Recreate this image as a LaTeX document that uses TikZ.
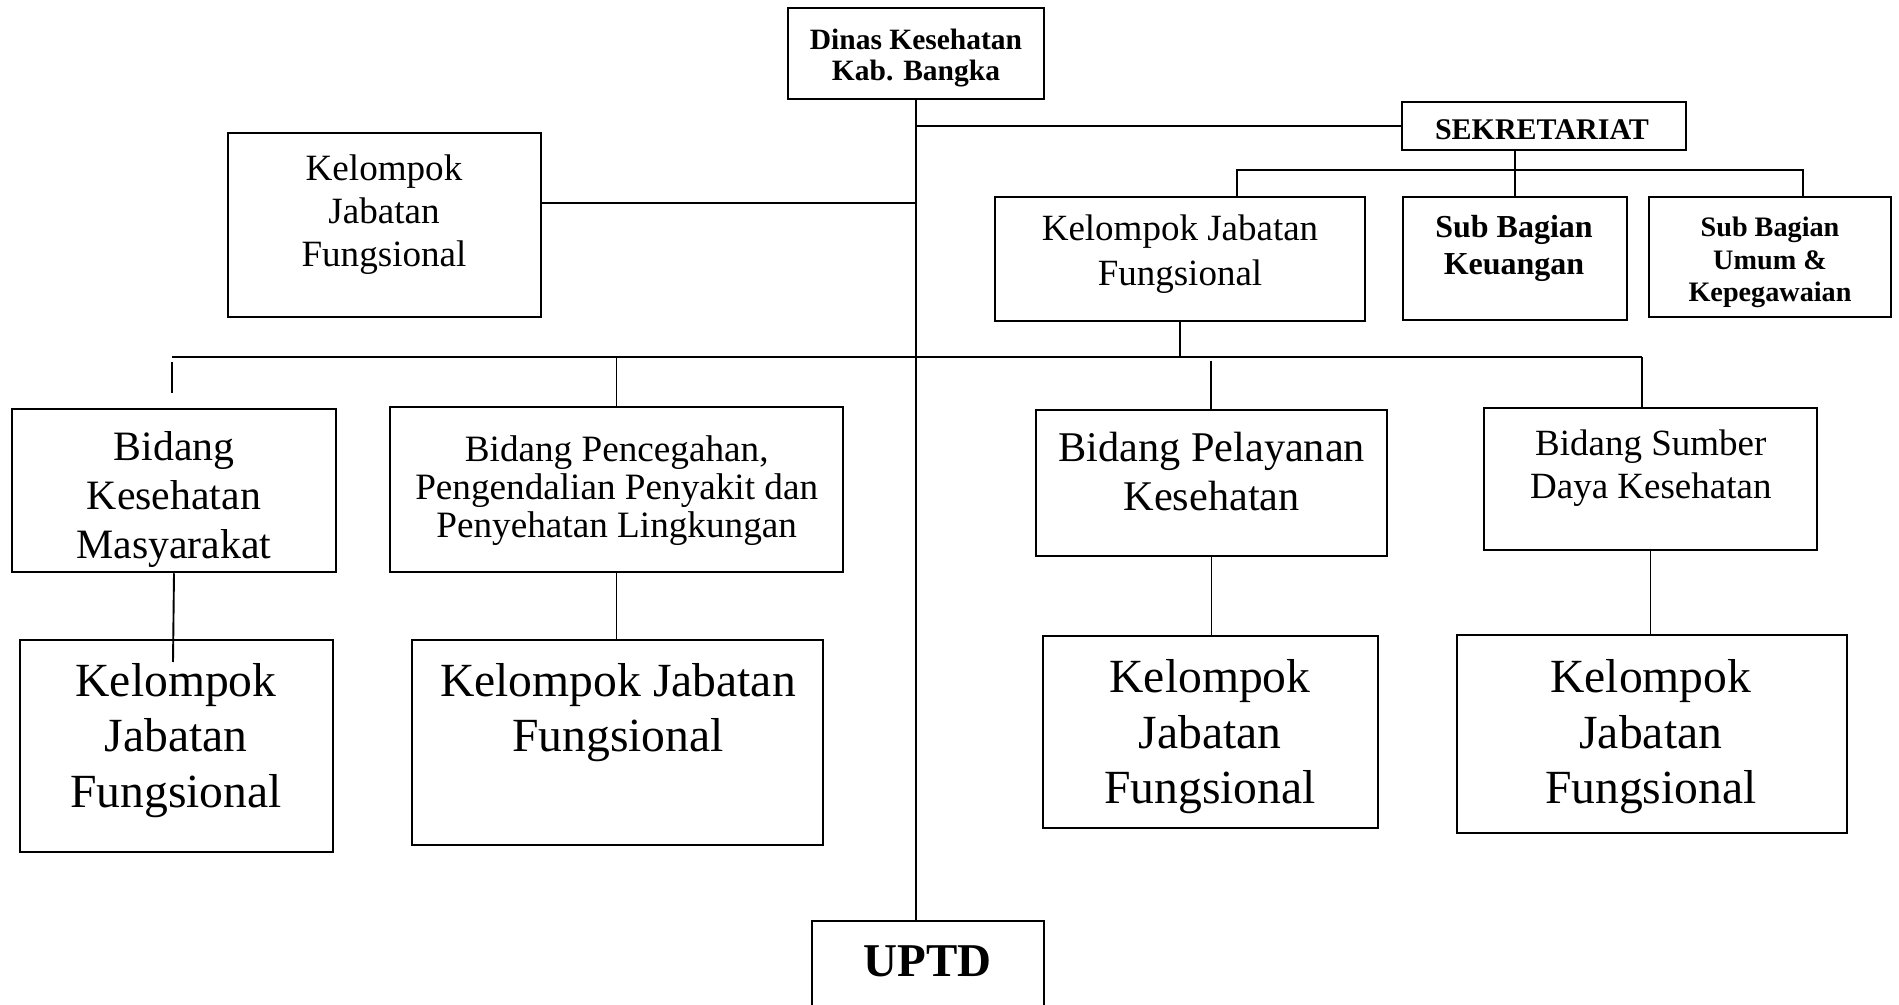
\documentclass[tikz,border=0pt]{standalone}
\usepackage{fontspec}
\setmainfont{Liberation Serif}
\newcommand{\ml}[3]{\parbox[t]{400pt}{\centering\fontsize{#1}{#2}\selectfont #3\par}}
\begin{document}
\begin{tikzpicture}[x=0.5pt,y=-0.5pt,
  bx/.style 2 args={draw, line width=1.25pt, inner sep=0pt, minimum width=#1*0.5pt, minimum height=#2*0.5pt},
  ln/.style={line width=0.95pt},
  txt/.style={anchor=base, inner sep=0pt}]
\useasboundingbox (0,0) rectangle (1899,1005);
\clip (0,0) rectangle (1899,1005);
% boxes
\node[bx={256}{91}]  (dinas)  at (916,53.5) {};
\node[bx={284}{48}]  (sek)    at (1544,126) {};
\node[bx={224}{123}] (keu)    at (1515,258.5) {};
\node[bx={242}{120}] (umum)   at (1770,257) {};
\node[bx={370}{124}] (kjfS)   at (1180,259) {};
\node[bx={313}{184}] (kjfL)   at (384.5,225) {};
\node[bx={324}{163}] (kesmas) at (174,490.5) {};
\node[bx={453}{165}] (cegah)  at (616.5,489.5) {};
\node[bx={351}{146}] (yan)    at (1211.5,483) {};
\node[bx={333}{142}] (sdk)    at (1650.5,479) {};
\node[bx={313}{212}] (k1)     at (176.5,746) {};
\node[bx={411}{205}] (k2)     at (617.5,742.5) {};
\node[bx={335}{192}] (k3)     at (1210.5,732) {};
\node[bx={390}{198}] (k4)     at (1652,734) {};
\node[bx={232}{118}] (uptd)   at (928,980) {};
% texts
\node[txt] (dinas-t)  at (916,50)   {\ml{14.75pt}{15.5pt}{\bfseries Dinas Kesehatan\\Kab. Bangka}};
\node[txt] (sek-t)    at (1542,140) {\ml{15pt}{17pt}{\bfseries SEKRETARIAT}};
\node[txt] (keu-t)    at (1514,238) {\ml{16pt}{18.5pt}{\bfseries Sub Bagian\\Keuangan}};
\node[txt] (umum-t)   at (1770,237) {\ml{14.1pt}{16.25pt}{\bfseries Sub Bagian\\Umum \&\\Kepegawaian}};
\node[txt] (kjfS-t)   at (1180,241) {\ml{18.5pt}{22.5pt}{Kelompok Jabatan\\Fungsional}};
\node[txt] (kjfL-t)   at (384,181)  {\ml{18.55pt}{21.5pt}{Kelompok\\Jabatan\\Fungsional}};
\node[txt] (kesmas-t) at (174,460.5) {\ml{20.9pt}{24.5pt}{Bidang\\Kesehatan\\Masyarakat}};
\node[txt] (cegah-t)  at (616.7,461) {\ml{18.6pt}{19.2pt}{Bidang Pencegahan,\\Pengendalian Penyakit dan\\Penyehatan Lingkungan}};
\node[txt] (yan-t)    at (1211.7,461) {\ml{21.15pt}{24.5pt}{Bidang Pelayanan\\Kesehatan}};
\node[txt] (sdk-t)    at (1650.8,455) {\ml{18.5pt}{21.5pt}{Bidang Sumber\\Daya Kesehatan}};
\node[txt] (k1-t)     at (176,696)  {\ml{23.8pt}{27.75pt}{Kelompok\\Jabatan\\Fungsional}};
\node[txt] (k2-t)     at (618,696)  {\ml{23.8pt}{27.5pt}{Kelompok Jabatan\\Fungsional}};
\node[txt] (k3-t)     at (1210,692.5) {\ml{23.8pt}{27.75pt}{Kelompok\\Jabatan\\Fungsional}};
\node[txt] (k4-t)     at (1650.8,692.5) {\ml{23.8pt}{27.75pt}{Kelompok\\Jabatan\\Fungsional}};
\node[txt] (uptd-t)   at (927.5,976) {\ml{23.5pt}{26pt}{\bfseries UPTD}};
% helper coordinates
\coordinate (j)  at (917,203);
\coordinate (hL) at (1237,170);
\coordinate (hR) at (1803,170);
\coordinate (bL) at (172,357);
\coordinate (bR) at (1642,357);
\coordinate (stubA) at (172,362);
\coordinate (stubB) at (172,393);
\coordinate (yanA) at (1211,361);
\coordinate (k1in) at (173,662);
% connectors
\draw[ln] (dinas.south) -- (dinas.south |- uptd.north);
\draw[ln] (dinas.south |- sek.west) -- (sek.west);
\draw[ln] (keu.north |- sek.south) -- (keu.north);
\draw[ln] (hL |- kjfS.north) -- (hL) -- (hR) -- (hR |- umum.north);
\draw[ln] (kjfL.east |- j) -- (j);
\draw[ln] (bL) -- (bR);
\draw[ln] (kjfS.south) -- (kjfS.south |- bL);
\draw[ln] (stubA) -- (stubB);
\draw[ln] (cegah.north |- bL) -- (cegah.north);
\draw[ln] (yanA) -- (yanA |- yan.north);
\draw[ln] (bR) -- (bR |- sdk.north);
\draw[ln] (kesmas.south) -- (k1in);
\draw[ln] (cegah.south) -- (cegah.south |- k2.north);
\draw[ln] (yan.south) -- (yan.south |- k3.north);
\draw[ln] (sdk.south) -- (sdk.south |- k4.north);
\end{tikzpicture}
\end{document}
